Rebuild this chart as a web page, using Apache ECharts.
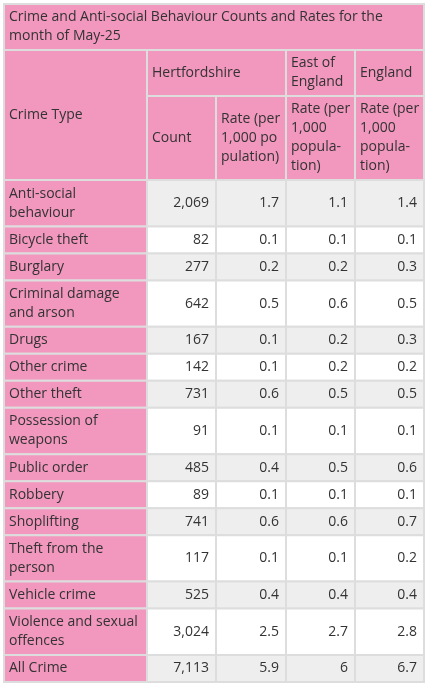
<!DOCTYPE html>
<html>
<head>
<meta charset="utf-8">
<script src="https://cdn.jsdelivr.net/npm/echarts@6/dist/echarts.min.js"></script>
<style>html,body{margin:0;padding:0;background:#fff}#main{width:428px;height:683px}</style>
</head>
<body>
<div id="main"></div>
<script>
var title = 'Crime and Anti-social Behaviour Counts and Rates for the\nmonth of May-25';
var crimeTypes = ['Anti-social\nbehaviour', 'Bicycle theft', 'Burglary', 'Criminal damage\nand arson', 'Drugs', 'Other crime', 'Other theft', 'Possession of\nweapons', 'Public order', 'Robbery', 'Shoplifting', 'Theft from the\nperson', 'Vehicle crime', 'Violence and sexual\noffences', 'All Crime'];
var hertsCount = ['2,069', '82', '277', '642', '167', '142', '731', '91', '485', '89', '741', '117', '525', '3,024', '7,113'];
var hertsRate = ['1.7', '0.1', '0.2', '0.5', '0.1', '0.1', '0.6', '0.1', '0.4', '0.1', '0.6', '0.1', '0.4', '2.5', '5.9'];
var eastRate = ['1.1', '0.1', '0.2', '0.6', '0.2', '0.2', '0.5', '0.1', '0.5', '0.1', '0.6', '0.1', '0.4', '2.7', '6'];
var englandRate = ['1.4', '0.1', '0.3', '0.5', '0.3', '0.2', '0.5', '0.1', '0.6', '0.1', '0.7', '0.2', '0.4', '2.8', '6.7'];

var pink = '#f297be', border = '#dddddd', font = '14px "Open Sans"', ink = '#333';
var colX = [4, 147, 216, 286, 355, 424];
var els = [];

function cell (x0, y0, x1, y1, fill, text, align) {
  els.push({type: 'rect', shape: {x: x0, y: y0, width: x1 - x0, height: y1 - y0},
    style: {fill: fill, stroke: border, lineWidth: 2}});
  if (text == null) return;
  els.push({type: 'text', x: align == 'right' ? x1 - 7 : x0 + 5, y: (y0 + y1) / 2,
    style: {text: text, font: font, fill: ink, align: align || 'left', verticalAlign: 'middle', lineHeight: 19}});
}

cell(colX[0], 4, colX[5], 50, pink, title);
cell(colX[0], 50, colX[1], 180, pink, 'Crime Type');
cell(colX[1], 50, colX[3], 96, pink, 'Hertfordshire');
cell(colX[3], 50, colX[4], 96, pink, 'East of\nEngland');
cell(colX[4], 50, colX[5], 96, pink, 'England');
cell(colX[1], 96, colX[2], 180, pink, 'Count');
cell(colX[2], 96, colX[3], 180, pink, 'Rate (per\n1,000 po\npulation)');
cell(colX[3], 96, colX[4], 180, pink, 'Rate (per\n1,000\npopula-\ntion)');
cell(colX[4], 96, colX[5], 180, pink, 'Rate (per\n1,000\npopula-\ntion)');

var y = 180;
crimeTypes.forEach(function (name, i) {
  var h = name.indexOf('\n') >= 0 ? 46.4 : 27;
  var bg = i % 2 == 0 ? '#eeeeee' : '#ffffff';
  cell(colX[0], y, colX[1], y + h, pink, name);
  [hertsCount, hertsRate, eastRate, englandRate].forEach(function (arr, j) {
    cell(colX[j + 1], y, colX[j + 2], y + h, bg, arr[i], 'right');
  });
  y += h;
});

var chart = echarts.init(document.getElementById('main'));
chart.setOption({animation: false, graphic: {elements: els}});
</script>
</body>
</html>
